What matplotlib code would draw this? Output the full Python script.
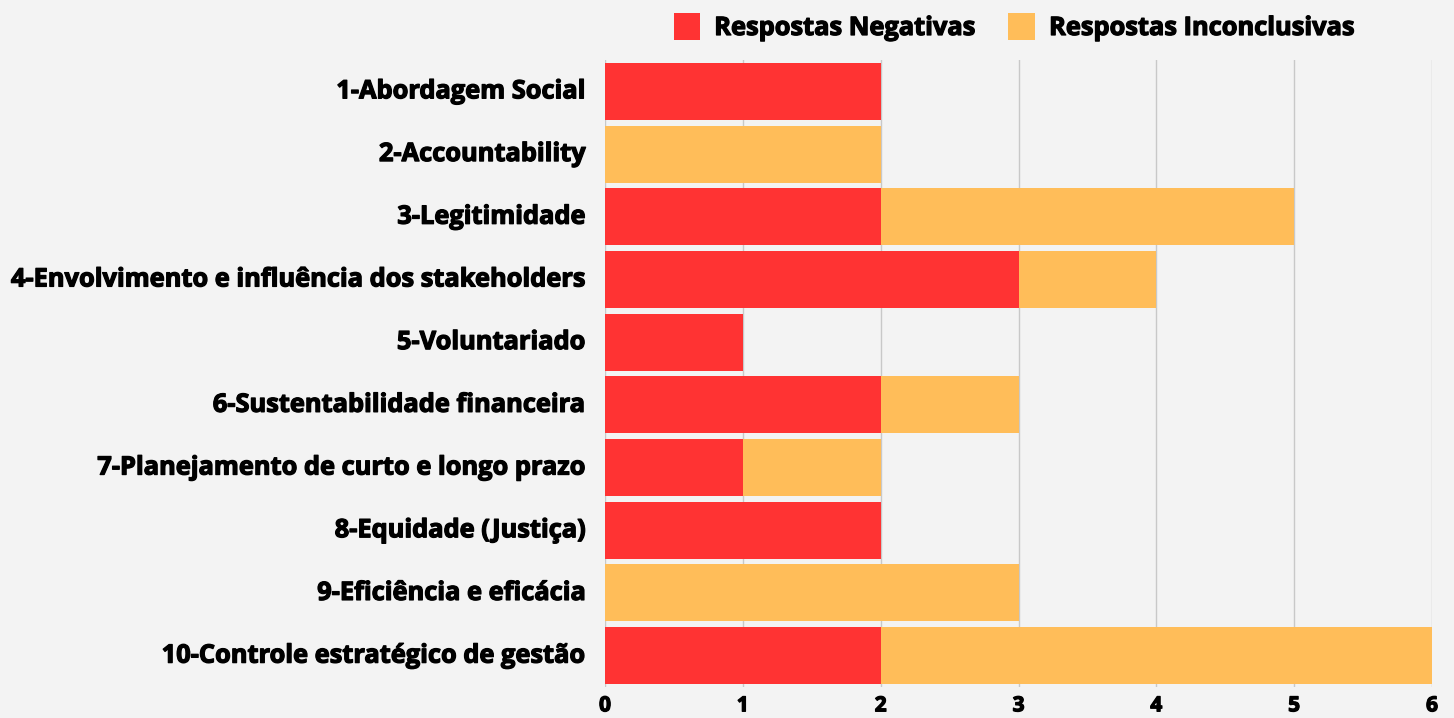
import matplotlib
matplotlib.use("Agg")
import matplotlib.pyplot as plt
from matplotlib.patches import Patch
import matplotlib.patheffects as pe
import matplotlib.transforms as mtransforms

categories = [
    "1-Abordagem Social",
    "2-Accountability",
    "3-Legitimidade",
    "4-Envolvimento e influência dos stakeholders",
    "5-Voluntariado",
    "6-Sustentabilidade financeira",
    "7-Planejamento de curto e longo prazo",
    "8-Equidade (Justiça)",
    "9-Eficiência e eficácia",
    "10-Controle estratégico de gestão",
]
negativas = [2, 0, 2, 3, 1, 2, 1, 2, 0, 2]
inconclusivas = [0, 2, 3, 1, 0, 1, 1, 0, 3, 4]
xticks = [0, 1, 2, 3, 4, 5, 6]
series_names = ["Respostas Negativas", "Respostas Inconclusivas"]

RED = "#ff3333"
ORANGE = "#ffbd59"
BG = "#f3f3f3"

plt.rcParams['font.family'] = ['Open Sans', 'DejaVu Sans']
thick = [pe.withStroke(linewidth=0.9, foreground='black')]

fig = plt.figure(figsize=(14.54, 7.18), dpi=100, facecolor=BG)
ax = fig.add_axes([605/1454, 1-687/718, (1432-605)/1454, (687-60)/718])
ax.set_facecolor(BG)

y = list(range(len(categories)))
h = 0.91
ax.barh(y, negativas, height=h, color=RED, zorder=3)
ax.barh(y, inconclusivas, left=negativas, height=h, color=ORANGE, zorder=3)

ax.set_xlim(0, 6)
ax.set_ylim(len(categories) - 0.5, -0.5)
ax.set_xticks(xticks)
ax.set_xticklabels([str(t) for t in xticks], fontsize=15, fontweight='bold')
ax.set_yticks(y)
ax.set_yticklabels(categories, fontsize=18.3, fontweight='bold')
ax.tick_params(axis='both', length=0)
ax.tick_params(axis='y', pad=14)
ax.tick_params(axis='x', pad=6)
offset = mtransforms.ScaledTranslation(0, 2.5/100, fig.dpi_scale_trans)
for lbl in ax.get_yticklabels():
    lbl.set_transform(lbl.get_transform() + offset)
for lbl in ax.get_xticklabels() + ax.get_yticklabels():
    lbl.set_path_effects(thick)
for s in ax.spines.values():
    s.set_visible(False)
ax.grid(axis='x', color='#c8c8c8', linewidth=1, zorder=0)
ax.set_axisbelow(True)

handles = [Patch(facecolor=RED, edgecolor='none'), Patch(facecolor=ORANGE, edgecolor='none')]
leg = fig.legend(handles, series_names, loc='center', bbox_to_anchor=(1014/1454, 1-27/718),
                 ncol=2, frameon=False, prop={'size': 18.3, 'weight': 'bold'},
                 handlelength=1.05, handleheight=1.25, handletextpad=0.55, columnspacing=1.3)
for t in leg.get_texts():
    t.set_path_effects(thick)

fig.savefig("out.png", dpi=100, facecolor=BG)
